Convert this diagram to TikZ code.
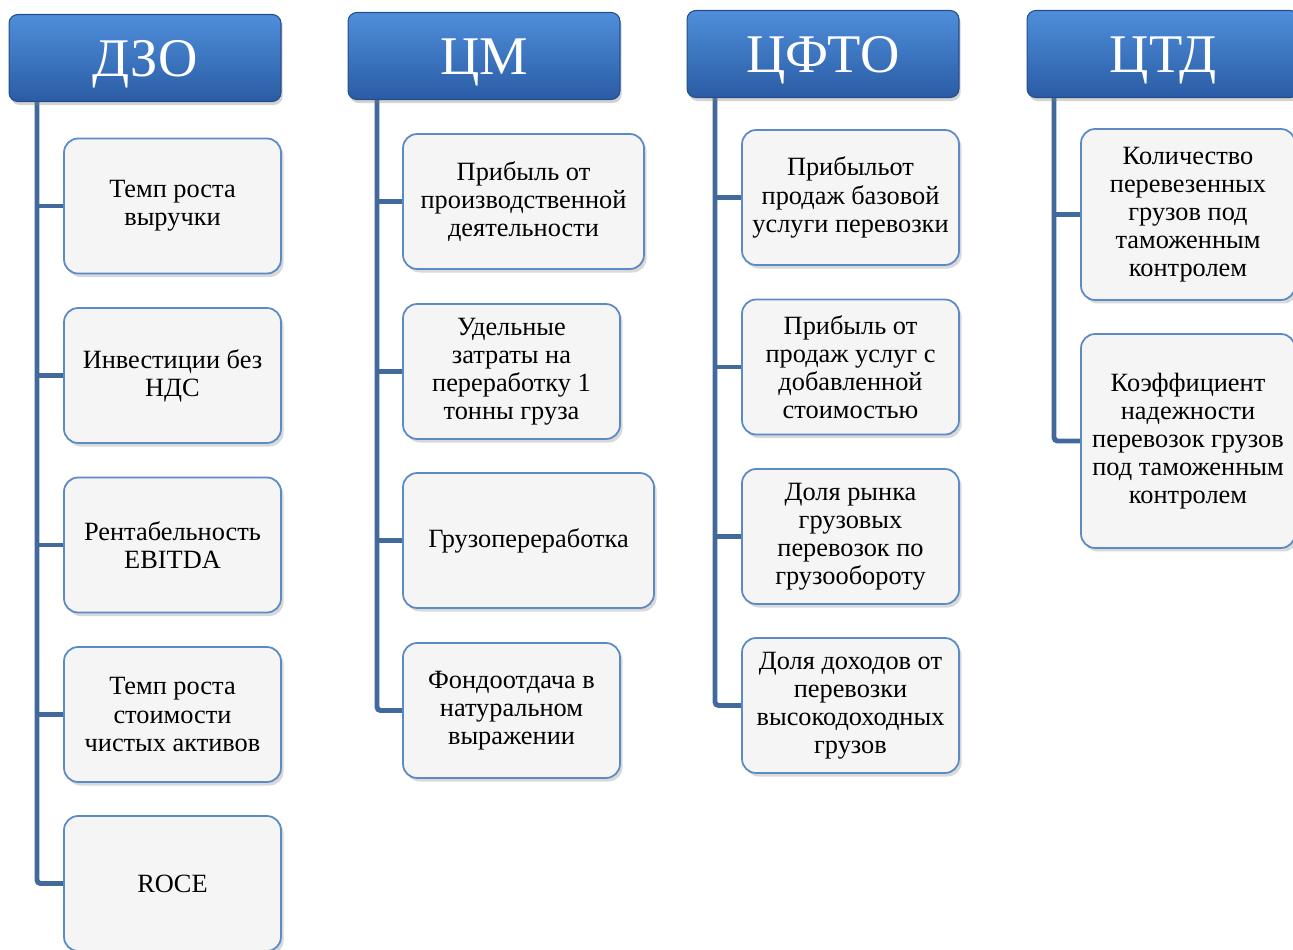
\documentclass[tikz,border=0pt]{standalone}
\usepackage{fontspec}
\setmainfont{Liberation Serif}
\usetikzlibrary{shadows,backgrounds}
\definecolor{hdtop}{HTML}{4F8EDB}
\definecolor{hdbot}{HTML}{2A5CA4}
\definecolor{trunkc}{HTML}{41699C}
\definecolor{boxline}{HTML}{5B8BC7}
\begin{document}
\begin{tikzpicture}[x=0.02cm,y=-0.02cm,
    head/.style={rounded corners=5pt,top color=hdtop,bottom color=hdbot,draw=hdbot!85!black,
        line width=0.6pt,text=white,font=\fontsize{31}{31}\selectfont,
        text height=21pt,text depth=0pt,
        minimum width=5.44cm,minimum height=1.74cm,
        drop shadow={opacity=0.35,shadow xshift=1pt,shadow yshift=-2pt}},
    kpi/.style={rounded corners=8pt,draw=boxline,line width=1pt,fill=black!4,
        align=center,font=\fontsize{15}{16}\selectfont,
        minimum width=#1,minimum height=2.7cm,
        drop shadow={opacity=0.3,shadow xshift=1.5pt,shadow yshift=-2pt}},
    kpi/.default=4.34cm,
    trunk/.style={draw=trunkc,line width=2.8pt,rounded corners=2pt}]
    \useasboundingbox (0,0) rectangle (1293,949);
    %headers
    \node[head] (hdzo) at (145,58) {ДЗО};
    \node[head] (hcm) at (484,56) {ЦМ};
    \node[head] (hcfto) at (823,54) {ЦФТО};
    \node[head] (hctd) at (1163,54) {ЦТД};
    %ДЗО
    \node[kpi] (dzo1) at (172.5,206) {Темп роста\\выручки};
    \node[kpi] (dzo2) at (172.5,375.5) {Инвестиции без\\НДС};
    \node[kpi] (dzo3) at (172.5,545) {Рентабельность\\EBITDA};
    \node[kpi] (dzo4) at (172.5,714.5) {Темп роста\\стоимости\\чистых активов};
    \node[kpi] (dzo5) at (172.5,883.5) {ROCE};
    %ЦМ
    \node[kpi=4.82cm] (cm1) at (523.5,201.5) {Прибыль от\\производственной\\деятельности};
    \node[kpi] (cm2) at (511.5,371.5) {Удельные\\затраты на\\переработку 1\\тонны груза};
    \node[kpi=5.02cm] (cm3) at (528.5,540.5) {Грузопереработка};
    \node[kpi] (cm4) at (511.5,710.5) {Фондоотдача в\\натуральном\\выражении};
    %ЦФТО
    \node[kpi] (cf1) at (850.5,197.5) {Прибыльот\\продаж базовой\\услуги перевозки};
    \node[kpi] (cf2) at (850.5,367) {Прибыль от\\продаж услуг с\\добавленной\\стоимостью};
    \node[kpi] (cf3) at (850.5,536.5) {Доля рынка\\грузовых\\перевозок по\\грузообороту};
    \node[kpi] (cf4) at (850.5,705.5) {Доля доходов от\\перевозки\\высокодоходных\\грузов};
    %ЦТД
    \node[kpi=4.28cm,minimum height=3.42cm] (ct1) at (1188,214.5) {Количество\\перевезенных\\грузов под\\таможенным\\контролем};
    \node[kpi=4.28cm,minimum height=4.28cm] (ct2) at (1188,441) {Коэффициент\\надежности\\перевозок грузов\\под таможенным\\контролем};
    %trunks
    \coordinate (tdzo) at (37,100);
    \coordinate (tcm) at (377,98);
    \coordinate (tcf) at (715,94);
    \coordinate (tct) at (1054,93);
    \begin{scope}[on background layer]
        \draw[trunk] (tdzo) |- (dzo5.west);
        \foreach \i in {1,...,4} \draw[trunk] (tdzo |- dzo\i.west) -- (dzo\i.west);
        \draw[trunk] (tcm) |- (cm4.west);
        \foreach \i in {1,...,3} \draw[trunk] (tcm |- cm\i.west) -- (cm\i.west);
        \draw[trunk] (tcf) |- (cf4.west);
        \foreach \i in {1,...,3} \draw[trunk] (tcf |- cf\i.west) -- (cf\i.west);
        \draw[trunk] (tct) |- (ct2.west);
        \draw[trunk] (tct |- ct1.west) -- (ct1.west);
    \end{scope}
\end{tikzpicture}
\end{document}
